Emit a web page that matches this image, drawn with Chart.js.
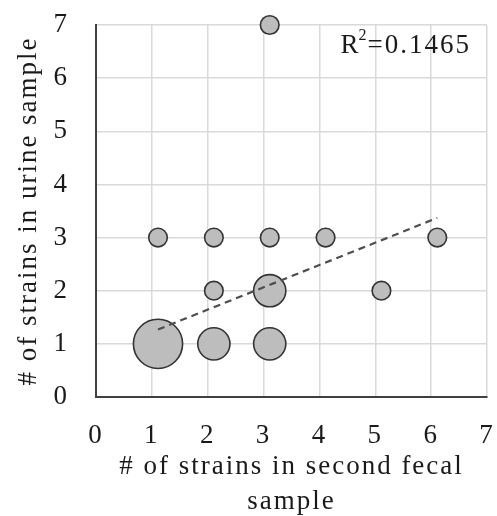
<!DOCTYPE html>
<html>
<head>
<meta charset="utf-8">
<script src="https://cdn.jsdelivr.net/npm/chart.js@4/dist/chart.umd.min.js"></script>
<style>
  body { margin: 0; background: #fff; }
  canvas { display: block; }
</style>
</head>
<body>
<canvas id="strainChart" width="497" height="516"></canvas>
<script>
// strains per subject: second fecal sample (x) vs urine sample (y)
const fecalStrains = [1.11, 2.11, 3.11, 4.11, 6.11, 3.11, 2.11, 3.11, 5.11, 1.11, 2.11, 3.11];
const urineStrains = [3, 3, 3, 3, 3, 7, 2, 2, 2, 1, 1, 1];
const subjectCounts = [1, 1, 1, 1, 1, 1, 1, 3, 1, 7, 3, 3];

// linear trendline end points
const trendX = [1.11, 6.11];
const trendY = [1.27, 3.37];
const rSquared = '0.1465';

const axisTicks = [0, 1, 2, 3, 4, 5, 6, 7];

const serif = 'Liberation Serif, Times New Roman, serif';
const textColor = '#1a1a1a';
const spacing = '2px';

// bubble area follows the subject count
const bubbleData = fecalStrains.map((x, i) => ({
  x: x,
  y: urineStrains[i],
  r: 9.3 * Math.sqrt(subjectCounts[i])
}));

const trendData = trendX.map((x, i) => ({ x: x, y: trendY[i] }));

// slightly wider type, as in the original figure
const wideText = {
  id: 'wideText',
  beforeLayout(chart) { chart.ctx.letterSpacing = spacing; },
  beforeDraw(chart) { chart.ctx.letterSpacing = spacing; }
};

// R² label in the top right corner of the plot
const rSquaredLabel = {
  id: 'rSquaredLabel',
  afterDatasetsDraw(chart) {
    const { ctx, chartArea } = chart;
    const big = '27px ' + serif;
    const small = '16px ' + serif;
    ctx.save();
    ctx.letterSpacing = spacing;
    ctx.fillStyle = textColor;
    ctx.textBaseline = 'alphabetic';
    ctx.font = big;
    const wR = ctx.measureText('R').width;
    const wRest = ctx.measureText('=' + rSquared).width;
    ctx.font = small;
    const w2 = ctx.measureText('2').width;
    const right = chartArea.right - 13;
    const base = chartArea.top + 28;
    let x = right - (wR + w2 + wRest);
    ctx.font = big;
    ctx.fillText('R', x, base);
    x += wR - 2;
    ctx.font = small;
    ctx.fillText('2', x, base - 13);
    x += w2 - 1;
    ctx.font = big;
    ctx.fillText('=' + rSquared, x, base);
    ctx.restore();
  }
};

// keep the plot edges fixed, no extra room for edge tick labels
function fixXBox(scale) {
  scale.height = 119;
  scale.paddingLeft = 0;
  scale.paddingRight = 0;
}
function fixYBox(scale) {
  scale.width = 96;
  scale.paddingTop = 0;
  scale.paddingBottom = 0;
}

new Chart(document.getElementById('strainChart'), {
  data: {
    datasets: [
      {
        type: 'line',
        data: trendData,
        borderColor: '#4d4d4d',
        borderWidth: 2.2,
        borderDash: [7, 5],
        pointRadius: 0,
        fill: false,
        order: 0
      },
      {
        type: 'bubble',
        data: bubbleData,
        backgroundColor: '#bdbdbd',
        borderColor: '#333333',
        borderWidth: 1.6,
        clip: false,
        order: 1
      }
    ]
  },
  options: {
    responsive: false,
    animation: false,
    layout: { autoPadding: false, padding: { top: 25, right: 10, bottom: 0, left: 0 } },
    plugins: {
      legend: { display: false },
      tooltip: { enabled: false }
    },
    scales: {
      x: {
        type: 'linear',
        min: 0,
        max: 7,
        afterBuildTicks: (scale) => { scale.ticks = axisTicks.map(v => ({ value: v })); },
        afterFit: fixXBox,
        grid: { color: '#d9d9d9', lineWidth: 1.5, drawTicks: false },
        border: { color: '#404040', width: 2 },
        ticks: { padding: 23, color: textColor, font: { family: serif, size: 27 } },
        title: {
          display: true,
          text: ['# of strains in second fecal', 'sample'],
          color: textColor,
          font: { family: serif, size: 27, lineHeight: 1.3 },
          padding: { top: 0, bottom: -3.5 }
        }
      },
      y: {
        type: 'linear',
        min: 0,
        max: 7,
        afterBuildTicks: (scale) => { scale.ticks = axisTicks.map(v => ({ value: v })); },
        afterFit: fixYBox,
        grid: { color: '#d9d9d9', lineWidth: 1.5, drawTicks: false },
        border: { color: '#404040', width: 2 },
        ticks: { padding: 27, color: textColor, font: { family: serif, size: 27 } },
        title: {
          display: true,
          text: '# of strains in urine sample',
          color: textColor,
          font: { family: serif, size: 27 },
          padding: { top: 13, bottom: 0 }
        }
      }
    }
  },
  plugins: [wideText, rSquaredLabel]
});
</script>
</body>
</html>
